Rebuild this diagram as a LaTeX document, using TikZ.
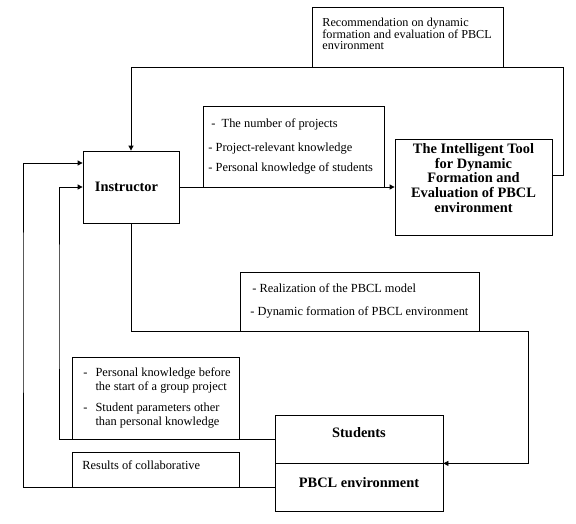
\documentclass[tikz,border=0pt]{standalone}
\usepackage{fontspec}
\setmainfont{Liberation Serif}
\usetikzlibrary{arrows.meta}
\begin{document}
\begin{tikzpicture}[x=1pt,y=-1pt,
  every path/.style={line width=0.8pt},
  box/.style={draw,line width=0.8pt,rectangle,inner sep=0pt},
  txt/.style={inner sep=0pt,anchor=north west,font=\fontsize{12.4}{14}\selectfont},
  rtxt/.style={inner sep=0pt,anchor=north west,align=left,font=\fontsize{12.2}{11.4}\selectfont},
  btxt/.style={inner sep=0pt,font=\fontsize{14.4}{14.8}\selectfont\bfseries},
  arr/.style={-{Triangle[length=5pt,width=5pt]}}]
\useasboundingbox (0,0) rectangle (576,523);
% boxes
\node[box,minimum width=191pt,minimum height=60pt] (rec) at (407.5,37) {};
\node[box,minimum width=96pt,minimum height=72pt] (instr) at (131,187) {};
\node[box,minimum width=181pt,minimum height=81pt] (params) at (293.5,146.5) {};
\node[box,minimum width=157pt,minimum height=96pt] (tool) at (473.5,187) {};
\node[box,minimum width=239pt,minimum height=59pt] (real) at (359.5,301.5) {};
\node[box,minimum width=167pt,minimum height=82pt] (pers) at (155.5,398) {};
\node[box,minimum width=167pt,minimum height=35pt] (res) at (155.5,469.5) {};
\node[box,minimum width=168pt,minimum height=48pt] (stud) at (359,439) {};
\node[box,minimum width=168pt,minimum height=48pt] (env) at (359,487) {};
% texts
\node[rtxt] (rectxt) at (322,17.8) {Recommendation on dynamic\\formation and evaluation of PBCL\\environment};
\node[txt] (paramtxt) at (208,117.7) {\begin{tabular}{@{}l@{}}
\hspace*{3pt}-\ \ The number of projects\\[10pt]
- Project-relevant knowledge\\[6pt]
- Personal knowledge of students
\end{tabular}};
\node[txt] (realtxt) at (250,282.7) {\begin{tabular}{@{}l@{}}
\hspace*{2pt}- Realization of the PBCL model\\[9pt]
- Dynamic formation of PBCL environment
\end{tabular}};
\node[txt] (perstxt) at (83,366.7) {\begin{tabular}{@{}l@{\hspace{8pt}}l@{}}
- & Personal knowledge before\\
  & the start of a group project\\[7pt]
- & Student parameters other\\
  & than personal knowledge
\end{tabular}};
\node[txt] (restxt) at (82,460.7) {Results of collaborative};
\node[btxt] (instrtxt) at ([xshift=-4.5pt]instr.center) {Instructor};
\node[btxt] (tooltxt) at ([yshift=7pt]tool.center) {\begin{tabular}{@{}c@{}}
The Intelligent Tool\\for Dynamic\\Formation and\\Evaluation of PBCL\\environment\end{tabular}};
\node[btxt] (studtxt) at ([yshift=6pt]stud.center) {Students};
\node[btxt] (envtxt) at ([yshift=4pt]env.center) {PBCL environment};
% connectors
\coordinate (tr) at (563,67);
\coordinate (br) at (528,331);
\coordinate (c1) at (23,300);
\coordinate (c2) at (59,300);
\draw[arr] ([yshift=12pt]tool.east) -| (tr) -| (instr.north);
\draw[arr] (instr.east) -- (tool.west);
\draw[arr] (instr.south) |- (br) |- (stud.south east);
\draw[arr] (stud.west) -| (c2) |- (instr.west);
\draw[arr] (env.west) -| (c1) |- ([yshift=24pt]instr.west);
\end{tikzpicture}
\end{document}
